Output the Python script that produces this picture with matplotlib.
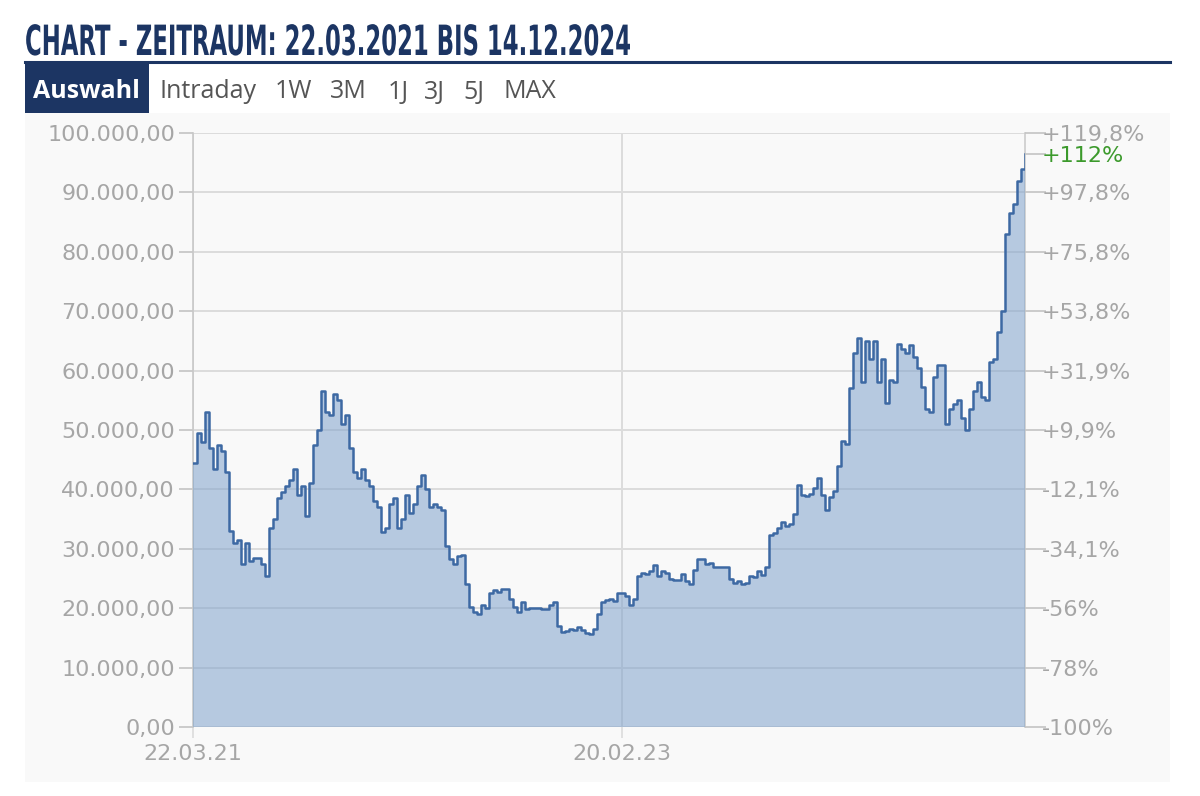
import matplotlib
matplotlib.use("Agg")
import matplotlib.pyplot as plt
from matplotlib.patches import Rectangle
from matplotlib.lines import Line2D
from matplotlib.patheffects import AbstractPathEffect
from matplotlib.transforms import Affine2D
import pandas as pd

# --- data ---
title = "CHART - ZEITRAUM: 22.03.2021 BIS 14.12.2024"
active_tab = "Auswahl"
tabs = ["Intraday", "1W", "3M", "1J", "3J", "5J", "MAX"]
tab_x = [160, 275, 330, 388, 424, 463, 503]

start_date = "2021-03-22"
end_date = "2024-12-09"

# closing prices in thousands, roughly every 6-7 days
price_k = [
    44.5, 49.5, 48, 53, 47, 43.5, 47.5, 46.5, 43, 33, 31, 31.5, 27.5, 31, 28,
    28.5, 28.5, 27.5, 25.5, 33.5, 35, 38.5, 39.5, 40.5, 41.5, 43.5, 39, 40.5,
    35.5, 41, 47.5, 50, 56.5, 53, 52.5, 56, 55, 51, 52.5, 47, 43, 42,
    43.5, 41.5, 40.5, 38, 37, 32.8, 33.5, 37.5, 38.5, 33.5, 35, 39, 36, 37.5,
    40.5, 42.5, 40, 37, 37.5, 37, 36.5, 30.5, 28.3, 27.5, 28.8, 29, 24, 20.2,
    19.3, 19, 20.5, 20, 22.5, 23, 22.8, 23.2, 23.2, 21.5, 20.2, 19.3, 21,
    19.8, 20.1, 20, 20.1, 19.8, 19.8, 20.6, 21, 17, 16, 16.2, 16.5, 16.3, 16.8,
    16.3, 15.8, 15.7, 16.5, 19, 21, 21.3, 21.5, 21.2, 22.5, 22.5, 22, 20.5,
    21.5, 25.5, 26, 25.8, 26.3, 27.3, 25.5, 26.2, 26, 25, 24.8, 24.7, 25.7, 24.5,
    24, 26.5, 28.3, 28.2, 27.4, 27.6, 26.9, 27, 27, 26.9, 25, 24.3, 24.5, 24,
    24.3, 25.5, 25.2, 26.3, 25.6, 27, 32.3, 32.6, 33.5, 34.5, 33.9, 34.2, 35.8,
    40.7, 39, 38.9, 39.2, 40.2, 42, 39, 36.5, 38.8, 39.8, 44, 48.1, 47.6, 57,
    63, 65.5, 58, 65, 62, 65, 58, 62, 54.5, 58.4, 58, 64.5, 63.7, 63, 64.3,
    62.3, 60.5, 57.3, 53.5, 53, 59, 61, 61, 51, 53.5, 54.3, 55, 52, 50, 53.5,
    56.5, 58, 55.5, 55, 61.5, 62, 66.5, 70, 83, 86.5, 88, 92, 94, 96.4,
]

y_ticks = [0, 10000, 20000, 30000, 40000, 50000, 60000, 70000, 80000, 90000, 100000]
pct_labels = ["-100%", "-78%", "-56%", "-34,1%", "-12,1%", "+9,9%", "+31,9%",
              "+53,8%", "+75,8%", "+97,8%", "+119,8%"]
last_pct_label = "+112%"

x_tick_dates = ["2021-03-22", "2023-02-20"]
x_tick_labels = ["22.03.21", "20.02.23"]

# --- colours ---
NAVY = "#1c3563"
PANEL = "#f9f9f9"
GRID = "#dcdcdc"
LINE = "#3d69a3"
FILL = "#7fa3cc"
LABEL = "#a6a6a6"
GREEN = "#3c9a2c"

W, H = 1200, 796
fig = plt.figure(figsize=(12, 7.96), dpi=100)
fig.patch.set_facecolor("white")


def fx(px):
    return px / W


def fy(py):
    return 1 - py / H


class Squeeze(AbstractPathEffect):
    # narrows glyphs horizontally around x0 (display pixels)
    def __init__(self, sx, x0):
        super().__init__()
        self.sx = sx
        self.x0 = x0

    def draw_path(self, renderer, gc, tpath, affine, rgbFace=None):
        squeeze = Affine2D().translate(-self.x0, 0).scale(self.sx, 1).translate(self.x0, 0)
        renderer.draw_path(gc, tpath, affine + squeeze, rgbFace)


# panel background
fig.add_artist(Rectangle((fx(25), fy(782)), fx(1170) - fx(25), fy(113) - fy(782),
                         transform=fig.transFigure, facecolor=PANEL,
                         edgecolor="none", zorder=0))

# header
t = fig.text(fx(25), fy(55), title, color=NAVY, fontsize=30, fontweight="bold",
             family="DejaVu Sans", ha="left", va="baseline")
fig.canvas.draw()
w = t.get_window_extent().width
t.set_path_effects([Squeeze(606 / w, 25 * fig.dpi / 100)])

fig.add_artist(Line2D([fx(25), fx(1170)], [fy(62), fy(62)], transform=fig.transFigure,
                      color=NAVY, lw=2.2))
fig.add_artist(Rectangle((fx(25), fy(113)), fx(149) - fx(25), fy(63) - fy(113),
                         transform=fig.transFigure, facecolor=NAVY, edgecolor="none"))
fig.text(fx(86), fy(92), active_tab, color="white", fontsize=18, fontweight="bold",
         family=["Open Sans", "DejaVu Sans"], ha="center", va="center")
for label, x in zip(tabs, tab_x):
    fig.text(fx(x), fy(92), label, color="#555555", fontsize=18,
             family=["Open Sans", "DejaVu Sans"], ha="left", va="center")

# chart
dates = pd.date_range(start_date, end_date, periods=len(price_k))
prices = [p * 1000 for p in price_k]

ax = fig.add_axes([fx(193), fy(727), fx(1025) - fx(193), fy(133) - fy(727)])
ax.set_facecolor("none")
ax.fill_between(dates, prices, 0, color=FILL, alpha=0.55, lw=0, zorder=3, step="post")
ax.plot(dates, prices, color=LINE, lw=1.8, zorder=4, drawstyle="steps-post")

ax.set_xlim(pd.Timestamp(start_date), pd.Timestamp(end_date))
ax.set_ylim(0, 100000)
ax.set_axisbelow(True)

ax.set_yticks(y_ticks)
ax.set_yticklabels([f"{v:,.2f}".replace(",", "X").replace(".", ",").replace("X", ".")
                    for v in y_ticks])
ax.set_xticks([pd.Timestamp(d) for d in x_tick_dates])
ax.set_xticklabels(x_tick_labels)
ax.grid(True, color=GRID, lw=1.4)
ax.tick_params(axis="y", direction="out", length=10, width=1.2, color="#c4c4c4",
               labelcolor=LABEL, labelsize=16, pad=3)
ax.tick_params(axis="x", direction="out", length=8, width=1.2, color=GRID,
               labelcolor=LABEL, labelsize=16, pad=4)
for side in ["top", "bottom"]:
    ax.spines[side].set_visible(False)
ax.spines["left"].set_color("#c8c8c8")
ax.spines["left"].set_linewidth(1.2)
ax.spines["right"].set_color("#cccccc")
ax.spines["right"].set_linewidth(1.2)

ax2 = ax.twinx()
ax2.set_ylim(0, 100000)
ax2.set_yticks(y_ticks + [prices[-1]])
ax2.set_yticklabels(pct_labels + [last_pct_label])
ax2.tick_params(axis="y", direction="out", length=15, width=1.2, color="#c4c4c4",
                labelcolor=LABEL, labelsize=16, pad=-3)
ax2.get_yticklabels()[-1].set_color(GREEN)
ax2.yaxis.get_major_ticks()[-1].tick2line.set_color("#999999")
for s in ax2.spines.values():
    s.set_visible(False)

fig.savefig("out.png", dpi=100, facecolor=fig.get_facecolor())
